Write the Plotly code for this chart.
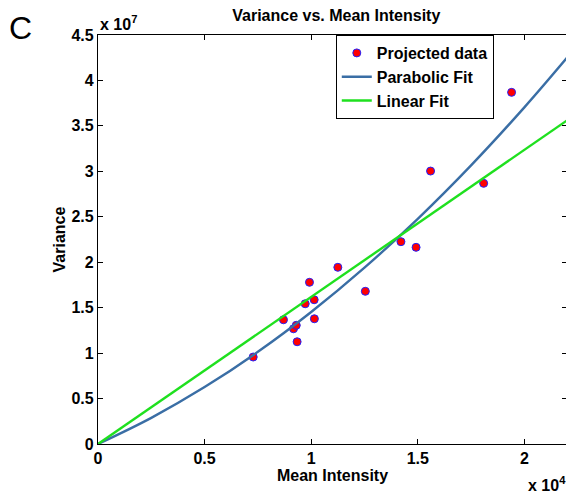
import plotly.graph_objects as go

# projected data points (mean intensity, variance)
mean_intensity = [7280, 8700, 9170, 9300, 9340, 9720, 9920, 10140, 10150,
                  11250, 12540, 14210, 14920, 15600, 18090, 19400]
variance = [0.957e7, 1.367e7, 1.268e7, 1.306e7, 1.125e7, 1.543e7, 1.779e7,
            1.587e7, 1.378e7, 1.944e7, 1.680e7, 2.226e7, 2.164e7, 3.003e7,
            2.868e7, 3.869e7]

# fit curves
parab_x = [0, 2500, 5000, 7500, 10000, 12500, 15000, 17500, 20000, 22000]
parab_y = [0, 0.288e7, 0.626e7, 1.014e7, 1.452e7, 1.940e7, 2.478e7,
           3.066e7, 3.704e7, 4.250e7]
linear_x = [0, 22000]
linear_y = [0, 3.56e7]

x_ticks = [0, 5000, 10000, 15000, 20000]
x_tick_text = ["0", "0.5", "1", "1.5", "2"]
y_ticks = [0, 0.5e7, 1e7, 1.5e7, 2e7, 2.5e7, 3e7, 3.5e7, 4e7, 4.5e7]
y_tick_text = ["0", "0.5", "1", "1.5", "2", "2.5", "3", "3.5", "4", "4.5"]

FONT = "Liberation Sans, Arial, Helvetica, sans-serif"
BLUE = "#3a6ea5"
GREEN = "#1fe01f"
BOLD16 = dict(family=FONT, size=16, color="black", weight="bold")

fig = go.Figure()
fig.add_trace(go.Scatter(
    x=mean_intensity, y=variance, mode="markers", name="Projected data",
    marker=dict(color="#ff0000", size=8, line=dict(color="#2020ff", width=1)),
))
fig.add_trace(go.Scatter(
    x=parab_x, y=parab_y, mode="lines", name="Parabolic Fit",
    line=dict(color=BLUE, width=2.4, shape="spline"),
))
fig.add_trace(go.Scatter(
    x=linear_x, y=linear_y, mode="lines", name="Linear Fit",
    line=dict(color=GREEN, width=2.4),
))

axis_common = dict(
    showline=True, linecolor="black", linewidth=1.2, mirror="ticks",
    ticks="inside", ticklen=5, tickcolor="black", showgrid=False,
    zeroline=False, automargin=False, tickfont=BOLD16,
)
fig.update_xaxes(
    range=[0, 22000], tickvals=x_ticks, ticktext=x_tick_text,
    title=dict(text="Mean Intensity", standoff=0, font=BOLD16),
    **axis_common,
)
fig.update_yaxes(
    range=[0, 4.5e7], tickvals=y_ticks, ticktext=y_tick_text,
    title=dict(text="Variance", standoff=1, font=BOLD16),
    **axis_common,
)

# the page body adds an 8px margin, so the figure is 8px smaller than the window
fig.update_layout(
    width=566, height=485,
    margin=dict(l=90, r=7, t=27, b=49),
    paper_bgcolor="white", plot_bgcolor="white",
    font=dict(family=FONT, color="black"),
    title=dict(text="Variance vs. Mean Intensity", x=0.58, xanchor="center",
               y=0.985, yanchor="middle", font=BOLD16),
    legend=dict(x=0.507, y=1.0, xanchor="left", yanchor="top",
                bgcolor="white", bordercolor="black", borderwidth=1,
                font=BOLD16, itemwidth=30, tracegroupgap=0),
    showlegend=True,
    annotations=[
        dict(text="C", x=-0.165, y=1.017, xref="paper", yref="paper",
             xanchor="center", yanchor="middle", showarrow=False,
             font=dict(family=FONT, size=32, color="black")),
        dict(text="<b>x 10<sup>7</sup></b>", x=0.0, y=1.0, xref="paper", yref="paper",
             xanchor="left", yanchor="bottom", showarrow=False, xshift=0,
             font=dict(family=FONT, size=16, color="black")),
        dict(text="<b>x 10<sup>4</sup></b>", x=1.0, y=0.0, xref="paper", yref="paper",
             xanchor="right", yanchor="top", showarrow=False, xshift=1, yshift=-28,
             font=dict(family=FONT, size=16, color="black")),
    ],
)

fig.write_html("out.html")
